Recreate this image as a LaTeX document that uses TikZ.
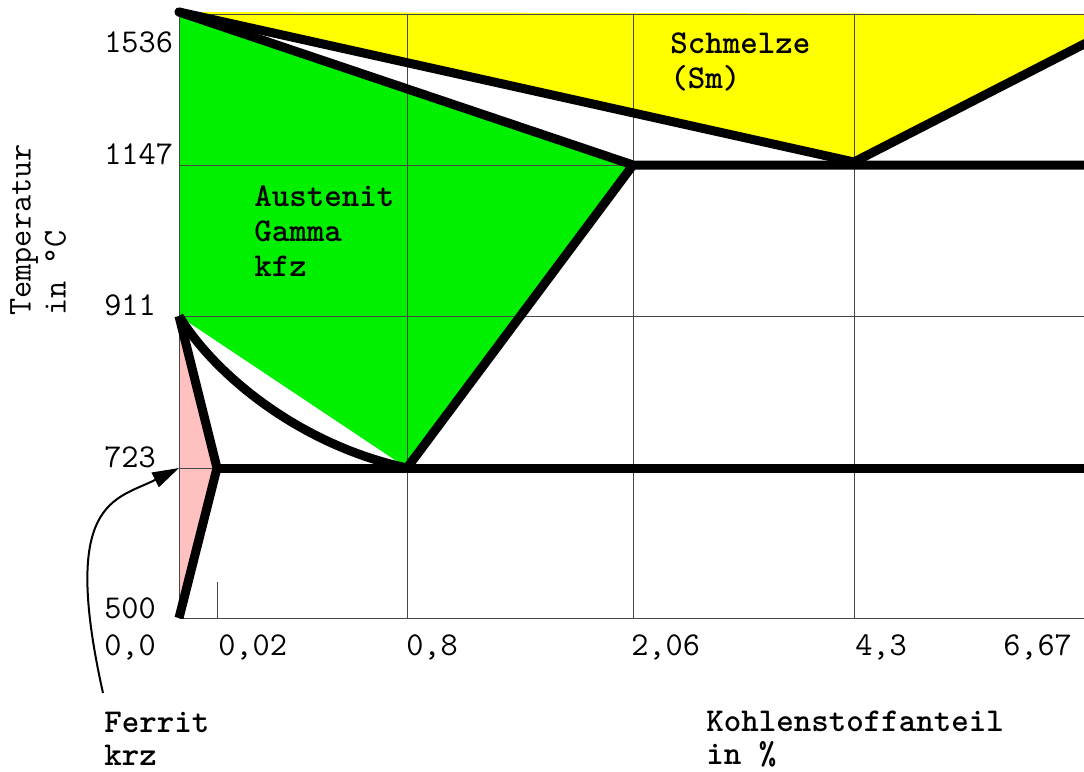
\documentclass[tikz,border=0pt]{standalone}
\usetikzlibrary{arrows.meta}
\definecolor{meltyellow}{RGB}{255,255,0}
\definecolor{austgreen}{RGB}{0,240,0}
\definecolor{ferritpink}{RGB}{255,192,192}
\definecolor{gridgray}{RGB}{70,70,70}
\tikzset{
  phase/.style={line width=6.75pt, line join=round},
  gridline/.style={line width=0.75pt, draw=gridgray},
  lbl/.style={font=\ttfamily\bfseries\fontsize{25}{26.3}\selectfont, inner sep=0pt, align=left, anchor=north west},
  num/.style={font=\ttfamily\fontsize{25}{26.3}\selectfont, inner sep=0pt, anchor=base west},
}
\begin{document}
\begin{tikzpicture}[x=0.75pt,y=-0.75pt]
  \useasboundingbox (0,0) rectangle (1084,771);

  % corner points
  \coordinate (A) at (179,12);
  \coordinate (G) at (179,316);
  \coordinate (P) at (217,468);
  \coordinate (Q) at (179,618);
  \coordinate (S) at (407,468);
  \coordinate (E) at (633,165);
  \coordinate (C) at (854,162);
  \coordinate (R) at (1090,41);
  \coordinate (L) at (179,468);

  % fields
  \fill[meltyellow] (A) -- (1090,14) -- (R) -- (C) -- cycle;
  \fill[austgreen] (A) -- (E) -- (S) -- (G) -- cycle;
  \fill[ferritpink] (G) -- (P) -- (Q) -- cycle;

  % grid
  \foreach \y in {14,165,316,468,618}
    \draw[gridline] (179,\y) -- (1090,\y);
  \foreach \x in {179,407,633,854}
    \draw[gridline] (\x,14) -- (\x,618);
  \draw[gridline] (217,582) -- (217,618);

  % phase lines
  \draw[phase, line cap=round] (A) -- (C) -- (R);
  \draw[phase, line cap=round] (A) -- (E) -- (1090,165);
  \draw[phase] (E) -- (S);
  \draw[phase] (G) .. controls (215,375) and (300,445) .. (S);
  \draw[phase] (G) -- (P) -- (Q);
  \draw[phase] (P) -- (1090,468);

  % temperatures
  \node[num] (t1536) at (104,52) {1536};
  \node[num] (t1147) at (104,164) {1147};
  \node[num] (t911) at (104,315) {911};
  \node[num] (t723) at (104,467) {723};
  \node[num] (t500) at (104,618) {500};

  % carbon content
  \node[num] (c00) at (104,655) {0,0};
  \node[num] (c002) at (218,655) {0,02};
  \node[num] (c08) at (406,655) {0,8};
  \node[num] (c206) at (631,655) {2,06};
  \node[num] (c43) at (855,655) {4,3};
  \node[num] (c667) at (1003,655) {6,67};

  % fields and axes
  \node[lbl] (schmelze) at (670,32) {Schmelze\\(Sm)};
  \node[lbl] (austenit) at (254,185) {Austenit\\Gamma\\kfz};
  \node[lbl] (ferrit) at (104,712) {Ferrit\\[-1.5pt]krz};
  \node[lbl] (kohlenstoff) at (706,711) {Kohlenstoffanteil\\[-1.5pt]in \%};
  \node[num, anchor=north west, align=left, rotate=90] (temperatur) at (10,316) {Temperatur\\in \textdegree C};

  \draw[line width=1.5pt, -{Triangle[length=20pt,width=12pt]}]
    ([shift={(-1,-19)}]ferrit.north west) .. controls (60,500) and (115,500) .. (L);
\end{tikzpicture}
\end{document}
